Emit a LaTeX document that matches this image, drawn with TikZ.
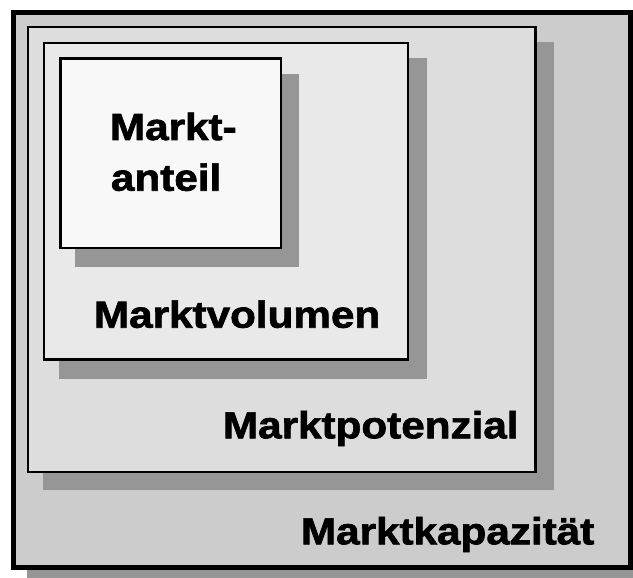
\documentclass[tikz,border=0pt]{standalone}
\usepackage{fontspec}
\setmainfont[FakeStretch=1.12, BoldFeatures={FakeBold=1.8}]{Liberation Sans}
\definecolor{shadowgray}{HTML}{969696}
\definecolor{fillA}{HTML}{CCCCCC}
\definecolor{fillB}{HTML}{DDDDDD}
\definecolor{fillC}{HTML}{E9E9E9}
\definecolor{fillD}{HTML}{F8F8F8}
\tikzset{
  shadowbox/.style={fill=shadowgray, draw=none},
  framebox/.style={draw=black, line width=2.5pt},
  label/.style={anchor=base west, inner sep=0pt, outer sep=0pt,
    font=\fontsize{37.7pt}{50pt}\selectfont\bfseries},
}
\begin{document}
\begin{tikzpicture}[x=1pt, y=-1pt]
  \useasboundingbox (0,0) rectangle (633,578);
  \clip (0,0) rectangle (633,578);
  % outermost frame: Marktkapazitaet
  \path[shadowbox] (27,26) rectangle (650,586);
  \draw[fill=fillA, draw=black, line width=5pt] (13.5,12.5) rectangle (630.5,567.5);
  % Marktpotenzial
  \path[shadowbox] (43,42) rectangle (554,490);
  \draw[framebox, fill=fillB] (27.8,26.8) rectangle (535.5,471.8);
  % Marktvolumen
  \path[shadowbox] (59,58) rectangle (426.7,379);
  \draw[framebox, fill=fillC] (43.8,42.8) rectangle (408.2,359.5);
  % Marktanteil
  \path[shadowbox] (75,74) rectangle (299,266.7);
  \draw[framebox, fill=fillD] (60.5,58.7) rectangle (281.2,247.8);
  % labels
  \node[label] (anteilA) at (110,140) {Markt-};
  \node[label] (anteilB) at (111,190.7) {anteil};
  \node[label] (volumen) at (94,327.7) {Marktvolumen};
  \node[label] (potenzial) at (223,438.3) {Marktpotenzial};
  \node[label] (kapazitaet) at (301,544.3) {Marktkapazität};
\end{tikzpicture}
\end{document}
